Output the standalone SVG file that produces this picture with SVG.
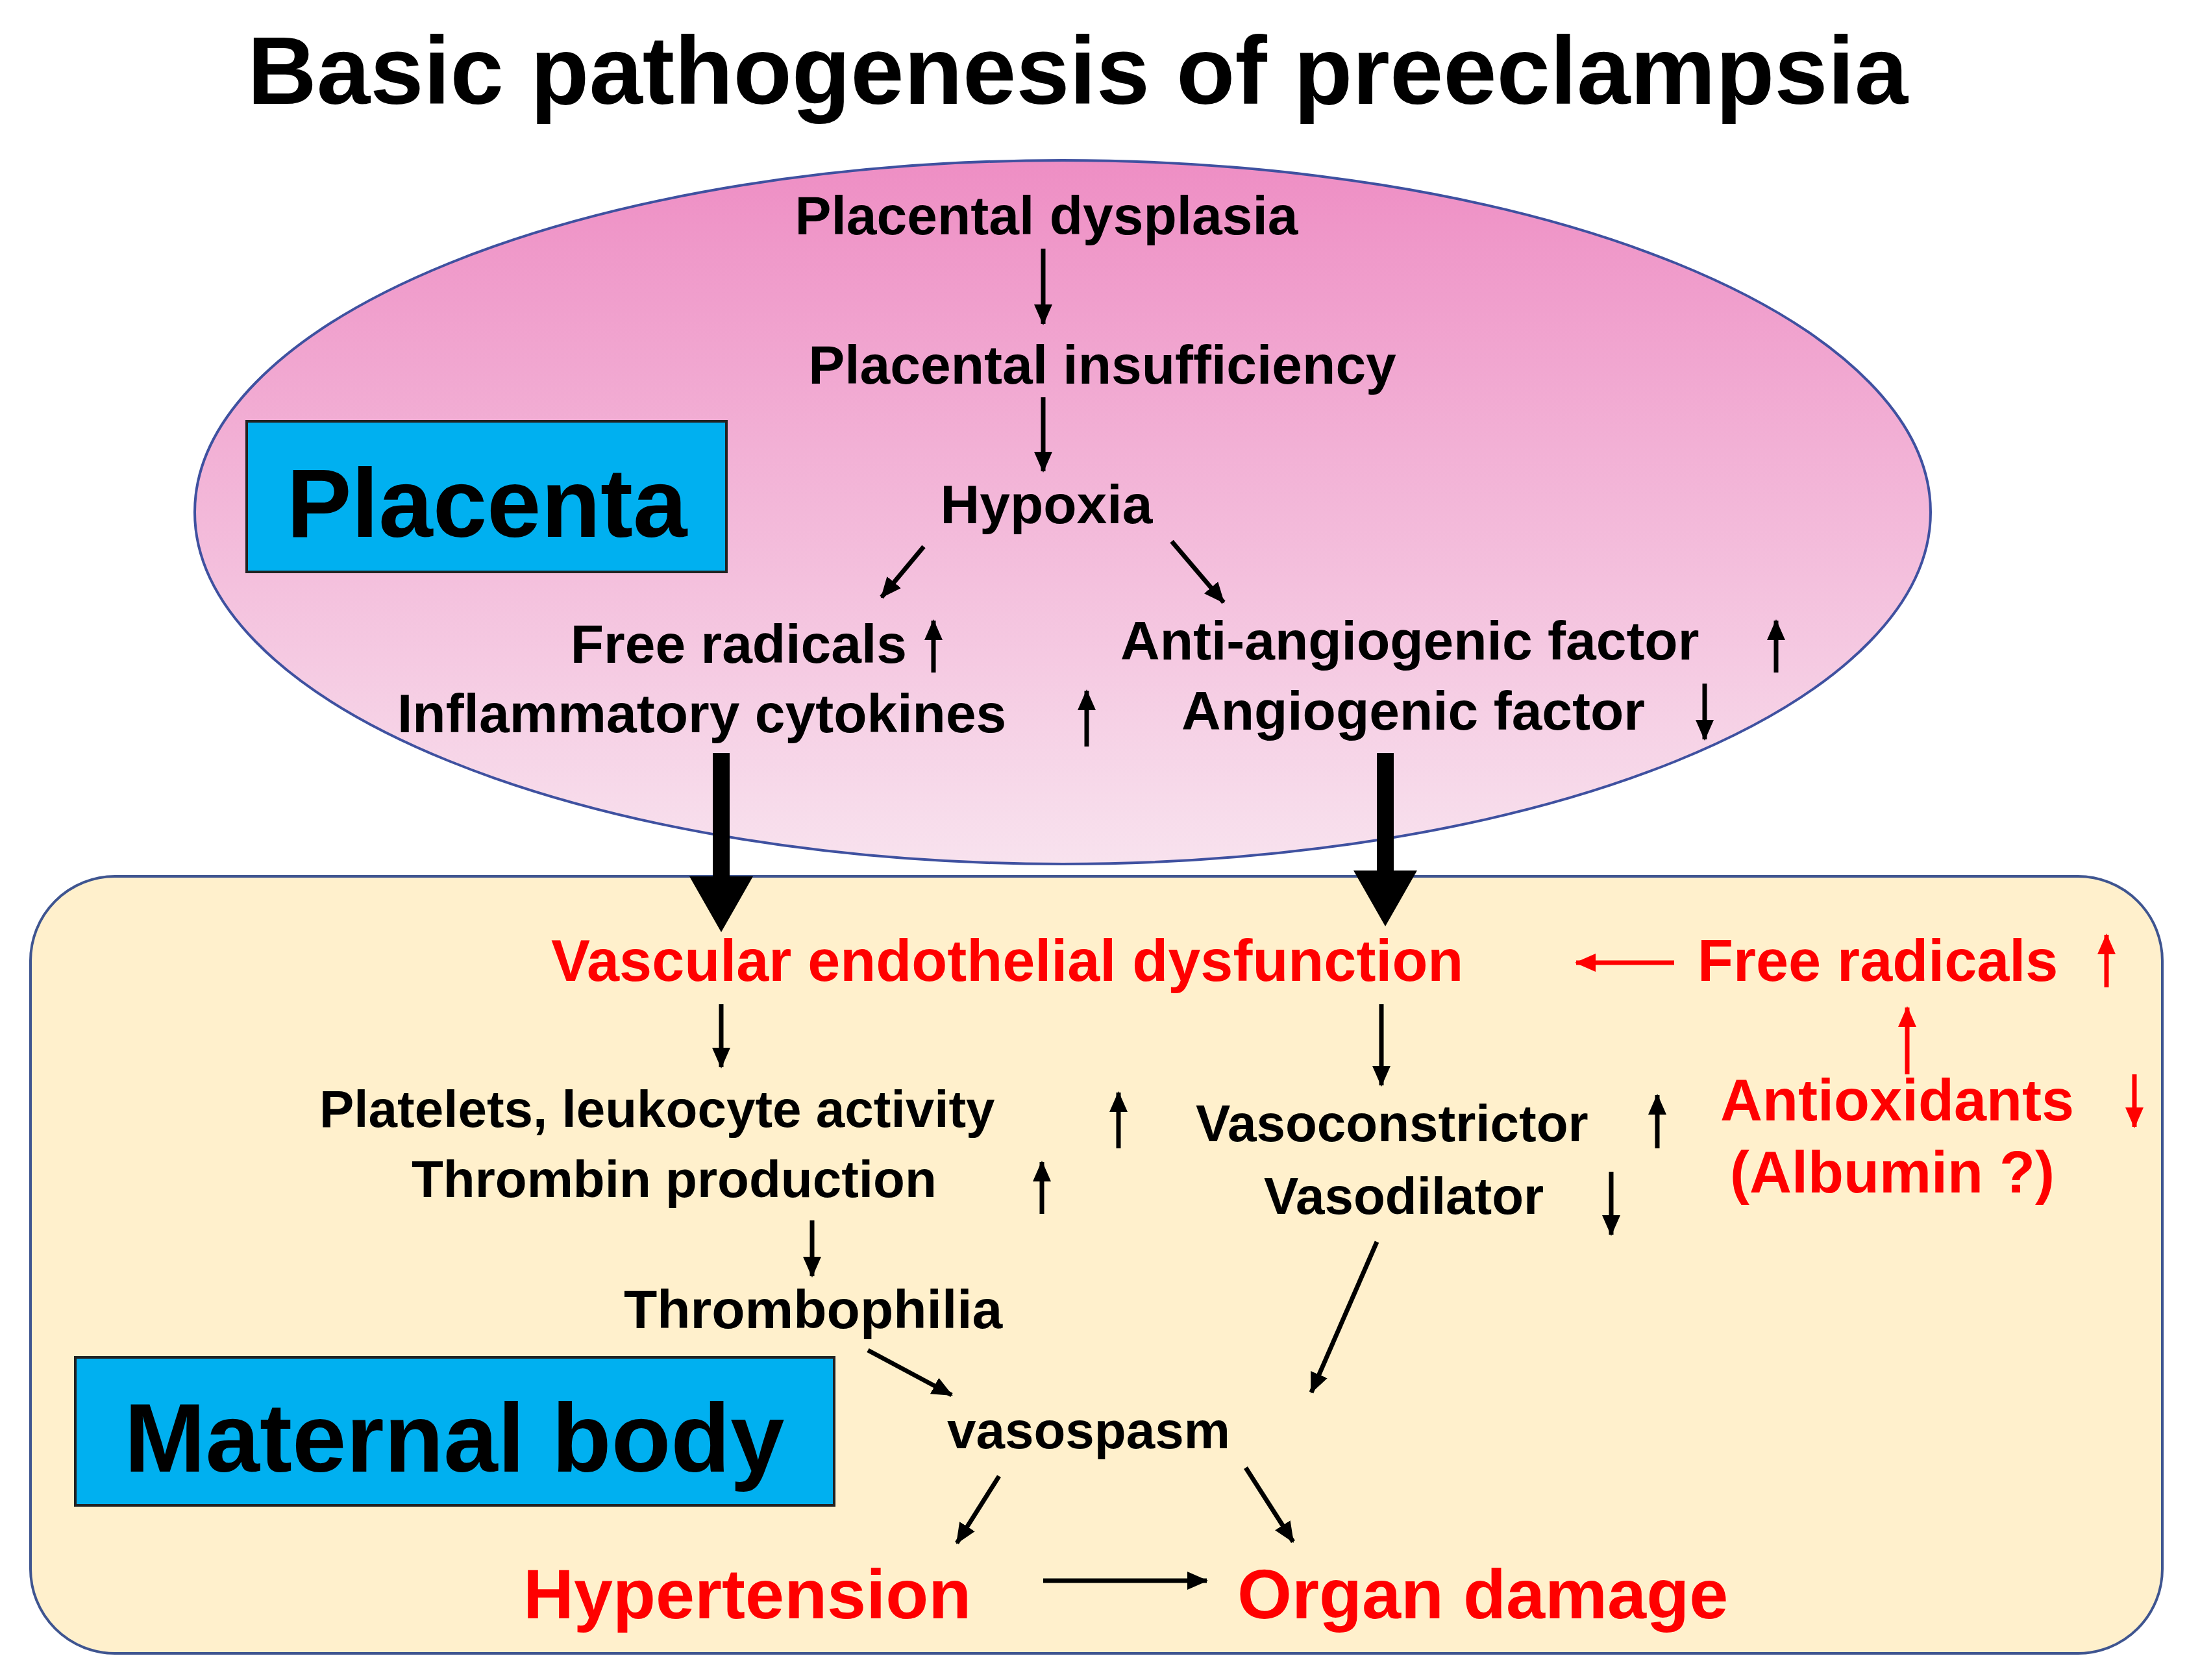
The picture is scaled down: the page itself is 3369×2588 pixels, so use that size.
<svg xmlns="http://www.w3.org/2000/svg" width="3369" height="2588" viewBox="0 0 3369 2588">
<defs>
<linearGradient id="pg" x1="0" y1="0" x2="0" y2="1"><stop offset="0" stop-color="#EE8EC4"/><stop offset="1" stop-color="#F8E2EE"/></linearGradient>
<marker id="ah" markerUnits="userSpaceOnUse" markerWidth="34" markerHeight="34" refX="30" refY="17" orient="auto"><path d="M0,3 L32,17 L0,31 Z" fill="#000"/></marker>
<marker id="ahr" markerUnits="userSpaceOnUse" markerWidth="34" markerHeight="34" refX="30" refY="17" orient="auto"><path d="M0,3 L32,17 L0,31 Z" fill="#F00"/></marker>
<style>
text{font-family:"Liberation Sans",Arial,sans-serif;font-weight:bold}
.t{font-size:84px;fill:#000}
.s{font-size:80px;fill:#000}
.r{font-size:90px;fill:#F00}
.a{stroke:#000;stroke-width:7;fill:none;marker-end:url(#ah)}
.ar{stroke:#F00;stroke-width:7;fill:none;marker-end:url(#ahr)}
.big{font-size:150px;fill:#000}
</style>
</defs>
<text x="1660" y="160" text-anchor="middle" style="font-size:148px">Basic pathogenesis of preeclampsia</text>
<g id="maternal"><rect x="47" y="1350" width="3284" height="1197" rx="130" fill="#FFF0CC" stroke="#3F5590" stroke-width="4"/></g>
<g id="placentaEllipse"><ellipse cx="1637" cy="789" rx="1337" ry="542" fill="url(#pg)" stroke="#3F51A0" stroke-width="4"/></g>
<g id="placentaLabel"><rect x="380" y="649" width="739" height="232" fill="#00B0F0" stroke="#222" stroke-width="4"/><text x="750" y="827" text-anchor="middle" class="big">Placenta</text></g>
<g id="maternalLabel"><rect x="116" y="2091" width="1169" height="228" fill="#00B0F0" stroke="#222" stroke-width="4"/><text x="700" y="2267" text-anchor="middle" class="big">Maternal body</text></g>
<g id="n1"><text x="1612" y="361" text-anchor="middle" class="t">Placental dysplasia</text></g>
<g id="n2"><text x="1698" y="591" text-anchor="middle" class="t">Placental insufficiency</text></g>
<g id="n3"><text x="1612" y="806" text-anchor="middle" class="t">Hypoxia</text></g>
<g id="n4"><text x="1397" y="1021" text-anchor="end" class="t">Free radicals</text><text x="612" y="1128" class="t">Inflammatory cytokines</text></g>
<g id="n5"><text x="1726" y="1016" class="t">Anti-angiogenic factor</text><text x="1820" y="1124" class="t">Angiogenic factor</text></g>
<g id="n6"><text x="849" y="1511" class="r">Vascular endothelial dysfunction</text></g>
<g id="n7"><text x="2615" y="1511" class="r">Free radicals</text></g>
<g id="n8"><text x="2650" y="1726" class="r">Antioxidants</text><text x="2665" y="1837" class="r">(Albumin ?)</text></g>
<g id="n9"><text x="492" y="1736" class="s">Platelets, leukocyte activity</text><text x="634" y="1844" class="s">Thrombin production</text></g>
<g id="n10"><text x="1842" y="1758" class="s">Vasoconstrictor</text><text x="1947" y="1870" class="s">Vasodilator</text></g>
<g id="n11"><text x="961" y="2046" class="t">Thrombophilia</text></g>
<g id="n12"><text x="1459" y="2231" class="s">vasospasm</text></g>
<g id="n13"><text x="806" y="2493" style="font-size:108px;fill:#F00">Hypertension</text></g>
<g id="n14"><text x="1906" y="2493" style="font-size:108px;fill:#F00">Organ damage</text></g>
<g id="connectors">
<path class="a" d="M1607,383 V499"/>
<path class="a" d="M1607,612 V726"/>
<path class="a" d="M1423,842 L1358,920"/>
<path class="a" d="M1805,834 L1885,928"/>
<path class="a" d="M1438,1036 V956"/>
<path class="a" d="M1674,1150 V1064"/>
<path class="a" d="M2736,1036 V956"/>
<path class="a" d="M2626,1053 V1139"/>
<path d="M1098,1160 H1124 V1350 H1160 L1111,1436 L1062,1350 H1098 Z" fill="#000"/>
<path d="M2121,1160 H2147 V1341 H2183 L2134,1427 L2085,1341 H2121 Z" fill="#000"/>
<path class="ar" d="M2579,1483 H2428"/>
<path class="ar" d="M3245,1521 V1440"/>
<path class="ar" d="M2938,1655 V1552"/>
<path class="ar" d="M3288,1655 V1736"/>
<path class="a" d="M1111,1547 V1644"/>
<path class="a" d="M2128,1547 V1672"/>
<path class="a" d="M1723,1769 V1683"/>
<path class="a" d="M1605,1870 V1790"/>
<path class="a" d="M2553,1769 V1687"/>
<path class="a" d="M2482,1805 V1902"/>
<path class="a" d="M1251,1880 V1966"/>
<path class="a" d="M1337,2080 L1466,2149"/>
<path class="a" d="M2121,1913 L2020,2145"/>
<path class="a" d="M1539,2274 L1474,2377"/>
<path class="a" d="M1919,2261 L1992,2375"/>
<path class="a" d="M1607,2435 H1859"/>
</g>
</svg>
